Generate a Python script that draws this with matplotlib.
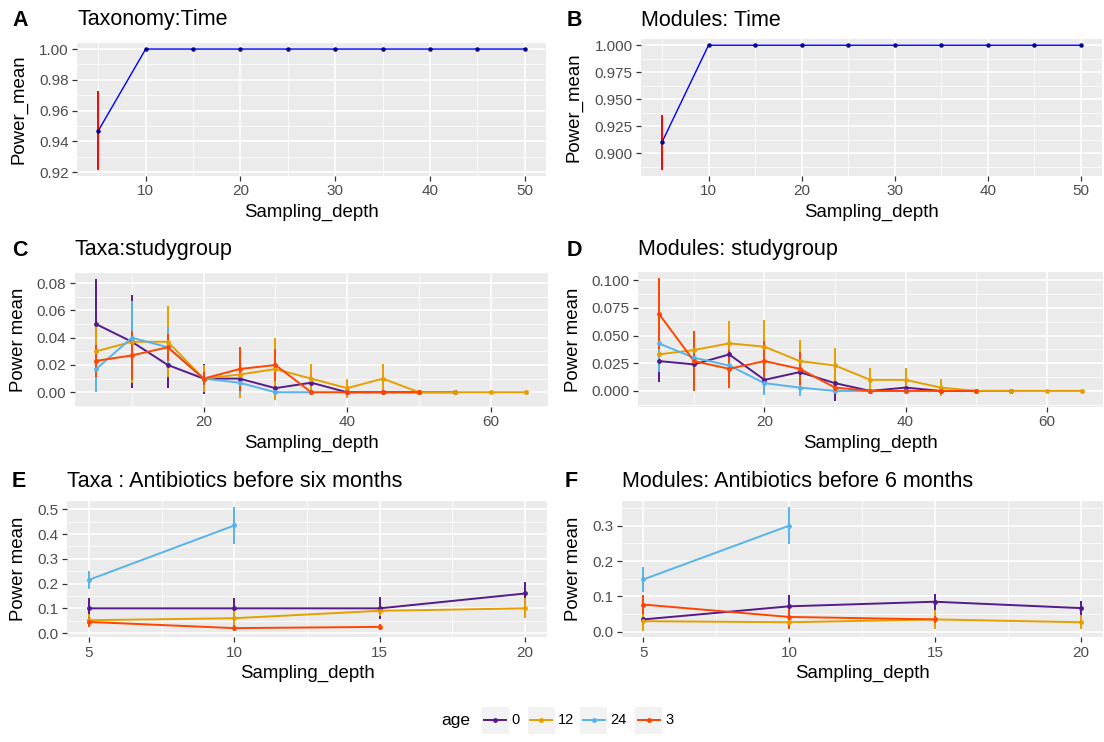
import matplotlib
matplotlib.use('Agg')
import matplotlib.pyplot as plt
from matplotlib.ticker import MultipleLocator, FormatStrFormatter
from matplotlib.lines import Line2D
from matplotlib.patches import Rectangle

plt.rcParams['font.family'] = ['Liberation Sans', 'DejaVu Sans']

W, H = 1104, 742

# ---- data ----
time_depth = [5, 10, 15, 20, 25, 30, 35, 40, 45, 50]
taxa_time_mean = [0.947, 1, 1, 1, 1, 1, 1, 1, 1, 1]
taxa_time_sd = [0.0255, 0, 0, 0, 0, 0, 0, 0, 0, 0]
mod_time_mean = [0.910, 1, 1, 1, 1, 1, 1, 1, 1, 1]
mod_time_sd = [0.0255, 0, 0, 0, 0, 0, 0, 0, 0, 0]

ages = ['0', '12', '24', '3']
age_colors = ['#551A8B', '#E69F00', '#56B4E9', '#FF4500']

# C: taxa studygroup
taxa_sg_depth = [
    [5, 10, 15, 20, 25, 30, 35, 40, 45, 50, 55],
    [5, 10, 15, 20, 25, 30, 35, 40, 45, 50, 55, 60, 65],
    [5, 10, 15, 20, 25, 30, 35],
    [5, 10, 15, 20, 25, 30, 35, 40, 45, 50],
]
taxa_sg_mean = [
    [0.050, 0.037, 0.020, 0.010, 0.010, 0.003, 0.007, 0, 0, 0, 0],
    [0.030, 0.037, 0.037, 0.010, 0.013, 0.017, 0.010, 0.003, 0.010, 0, 0, 0, 0],
    [0.017, 0.040, 0.033, 0.010, 0.007, 0.000, 0.000],
    [0.023, 0.027, 0.033, 0.010, 0.017, 0.020, 0, 0, 0, 0],
]
taxa_sg_sd = [
    [0.033, 0.034, 0.017, 0.011, 0.011, 0.009, 0.009, 0, 0, 0, 0],
    [0.020, 0.030, 0.026, 0.010, 0.017, 0.023, 0.011, 0.007, 0.011, 0, 0, 0, 0],
    [0.017, 0.027, 0.015, 0.005, 0.008, 0, 0],
    [0.012, 0.018, 0.010, 0.005, 0.016, 0.012, 0, 0, 0, 0],
]

# D: modules studygroup
mod_sg_depth = [
    [5, 10, 15, 20, 25, 30, 35, 40, 45, 50, 55],
    [5, 10, 15, 20, 25, 30, 35, 40, 45, 50, 55, 60, 65],
    [5, 10, 15, 20, 25, 30, 35, 40],
    [5, 10, 15, 20, 25, 30, 35, 40, 45, 50],
]
mod_sg_mean = [
    [0.027, 0.024, 0.033, 0.010, 0.017, 0.007, 0, 0.003, 0, 0, 0],
    [0.033, 0.037, 0.043, 0.040, 0.027, 0.023, 0.010, 0.010, 0.003, 0, 0, 0, 0],
    [0.043, 0.030, 0.023, 0.007, 0.003, 0, 0, 0],
    [0.070, 0.027, 0.020, 0.027, 0.020, 0.003, 0, 0, 0, 0],
]
mod_sg_sd = [
    [0.019, 0.019, 0.015, 0.012, 0.016, 0.016, 0, 0.006, 0, 0, 0],
    [0.013, 0.017, 0.020, 0.024, 0.019, 0.016, 0.011, 0.011, 0.008, 0, 0, 0, 0],
    [0.026, 0.013, 0.012, 0.011, 0.008, 0, 0, 0],
    [0.032, 0.027, 0.017, 0.018, 0.015, 0.005, 0, 0, 0, 0],
]

# E: taxa antibiotics
taxa_ab_depth = [[5, 10, 15, 20], [5, 10, 15, 20], [5, 10], [5, 10, 15]]
taxa_ab_mean = [
    [0.100, 0.100, 0.100, 0.160],
    [0.052, 0.060, 0.090, 0.100],
    [0.215, 0.435],
    [0.045, 0.020, 0.025],
]
taxa_ab_sd = [
    [0.043, 0.040, 0.045, 0.045],
    [0.025, 0.030, 0.020, 0.040],
    [0.037, 0.075],
    [0.020, 0.012, 0.012],
]

# F: modules antibiotics
mod_ab_depth = [[5, 10, 15, 20], [5, 10, 15, 20], [5, 10], [5, 10, 15]]
mod_ab_mean = [
    [0.035, 0.072, 0.085, 0.067],
    [0.030, 0.027, 0.035, 0.027],
    [0.148, 0.300],
    [0.077, 0.042, 0.035],
]
mod_ab_sd = [
    [0.018, 0.033, 0.022, 0.020],
    [0.028, 0.018, 0.026, 0.020],
    [0.035, 0.053],
    [0.028, 0.033, 0.010],
]

TICK_COLOR = '#4D4D4D'
fig = plt.figure(figsize=(W / 100, H / 100), dpi=100)


def px_axes(x0, y0, x1, y1):
    return fig.add_axes([x0 / W, 1 - y1 / H, (x1 - x0) / W, (y1 - y0) / H])


def ftext(x, y, s, **kw):
    fig.text(x / W, 1 - y / H, s, **kw)


def gg_style(ax, xstep, ystep, yfmt):
    ax.set_facecolor('#EBEBEB')
    for sp in ax.spines.values():
        sp.set_visible(False)
    ax.set_axisbelow(True)
    ax.xaxis.set_major_locator(MultipleLocator(xstep))
    ax.xaxis.set_minor_locator(MultipleLocator(xstep / 2))
    ax.yaxis.set_major_locator(MultipleLocator(ystep))
    ax.yaxis.set_minor_locator(MultipleLocator(ystep / 2))
    ax.yaxis.set_major_formatter(FormatStrFormatter(yfmt))
    ax.xaxis.set_major_formatter(FormatStrFormatter('%g'))
    ax.grid(which='major', color='white', lw=1.1)
    ax.grid(which='minor', color='white', lw=0.55)
    ax.tick_params(which='major', length=3.5, width=0.9, color='#333333',
                   labelsize=11, labelcolor=TICK_COLOR, pad=2.5)
    ax.tick_params(which='minor', length=0)


def set_range(ax, xs, los, his):
    x0, x1 = min(xs), max(xs)
    y0, y1 = min(los), max(his)
    dx, dy = (x1 - x0) * 0.05, (y1 - y0) * 0.05
    ax.set_xlim(x0 - dx, x1 + dx)
    ax.set_ylim(y0 - dy, y1 + dy)


def time_panel(ax, depth, mean, sd):
    lo = [m - s for m, s in zip(mean, sd)]
    hi = [m + s for m, s in zip(mean, sd)]
    ax.plot(depth, mean, color='#0000FF', lw=1.0, zorder=2)
    ax.vlines(depth, lo, hi, color='red', lw=1.4, zorder=3)
    ax.plot(depth, mean, ls='none', marker='o', ms=2.2, color='#00008B', zorder=4)
    set_range(ax, depth, lo, hi)


def group_panel(ax, depths, means, sds):
    all_x, all_lo, all_hi = [], [], []
    for d, m, c in zip(depths, means, age_colors):
        ax.plot(d, m, color=c, lw=1.4, zorder=2)
    for d, m, s, c in zip(depths, means, sds, age_colors):
        lo = [a - b for a, b in zip(m, s)]
        hi = [a + b for a, b in zip(m, s)]
        ax.vlines(d, lo, hi, color=c, lw=1.4, zorder=3)
        all_x += d
        all_lo += lo
        all_hi += hi
    for d, m, c in zip(depths, means, age_colors):
        ax.plot(d, m, ls='none', marker='o', ms=2.5, color=c, zorder=4)
    set_range(ax, all_x, all_lo, all_hi)


def labels(letter, title, lx, tx, ty, ax_box, xlab_y, ylab_x, ylab):
    ftext(lx, ty, letter, fontsize=15.5, fontweight='bold', va='center', ha='left')
    ftext(tx, ty, title, fontsize=15.5, va='center', ha='left')
    x0, y0, x1, y1 = ax_box
    ftext((x0 + x1) / 2, xlab_y, 'Sampling_depth', fontsize=13.4, ha='center', va='center')
    ftext(ylab_x, (y0 + y1) / 2, ylab, fontsize=13.4, ha='center', va='center', rotation=90)


# ---- panels ----
boxA = (77, 43, 546, 176)
boxB = (641, 39, 1102, 176)
boxC = (74.5, 273, 548, 406.5)
boxD = (637.5, 272, 1103, 407)
boxE = (67, 500.7, 547, 637.3)
boxF = (621.5, 500.7, 1102.5, 637.3)

axA = px_axes(*boxA)
gg_style(axA, 10, 0.02, '%.2f')
time_panel(axA, time_depth, taxa_time_mean, taxa_time_sd)
labels('A', 'Taxonomy:Time', 12, boxA[0], 20, boxA, 212.7, 18.5, 'Power_mean')

axB = px_axes(*boxB)
gg_style(axB, 10, 0.025, '%.3f')
time_panel(axB, time_depth, mod_time_mean, mod_time_sd)
labels('B', 'Modules: Time', 567, boxB[0], 20, boxB, 212.7, 574, 'Power_mean')

axC = px_axes(*boxC)
gg_style(axC, 20, 0.02, '%.2f')
group_panel(axC, taxa_sg_depth, taxa_sg_mean, taxa_sg_sd)
labels('C', 'Taxa:studygroup', 12, boxC[0], 250, boxC, 443.3, 18.5, 'Power mean')

axD = px_axes(*boxD)
gg_style(axD, 20, 0.025, '%.3f')
group_panel(axD, mod_sg_depth, mod_sg_mean, mod_sg_sd)
labels('D', 'Modules: studygroup', 567, boxD[0], 250, boxD, 443.3, 574, 'Power mean')

axE = px_axes(*boxE)
gg_style(axE, 5, 0.1, '%.1f')
group_panel(axE, taxa_ab_depth, taxa_ab_mean, taxa_ab_sd)
labels('E', 'Taxa : Antibiotics before six months', 12, boxE[0], 481.7, boxE, 673.3, 18.5, 'Power mean')

axF = px_axes(*boxF)
gg_style(axF, 5, 0.1, '%.1f')
group_panel(axF, mod_ab_depth, mod_ab_mean, mod_ab_sd)
labels('F', 'Modules: Antibiotics before 6 months', 565, boxF[0], 481.7, boxF, 673.3, 574, 'Power mean')

# ---- legend ----
ftext(441.7, 720, 'age', fontsize=12.5, ha='left', va='center')
key_left = [481.7, 527.7, 580, 635]
key_size = 27
for kx, lab, c in zip(key_left, ages, age_colors):
    fig.add_artist(Rectangle((kx / W, 1 - (720 + key_size / 2) / H), key_size / W, key_size / H,
                             transform=fig.transFigure, facecolor='#F2F2F2', edgecolor='none'))
    yc = 1 - 720 / H
    fig.add_artist(Line2D([(kx + 2.5) / W, (kx + key_size - 2.5) / W], [yc, yc],
                          transform=fig.transFigure, color=c, lw=1.4))
    fig.add_artist(Line2D([(kx + key_size / 2) / W], [yc], transform=fig.transFigure,
                          color=c, marker='o', ms=2.5, ls='none'))
    ftext(kx + key_size + 3, 720, lab, fontsize=10.5, ha='left', va='center')

fig.savefig('out.png', dpi=100)
